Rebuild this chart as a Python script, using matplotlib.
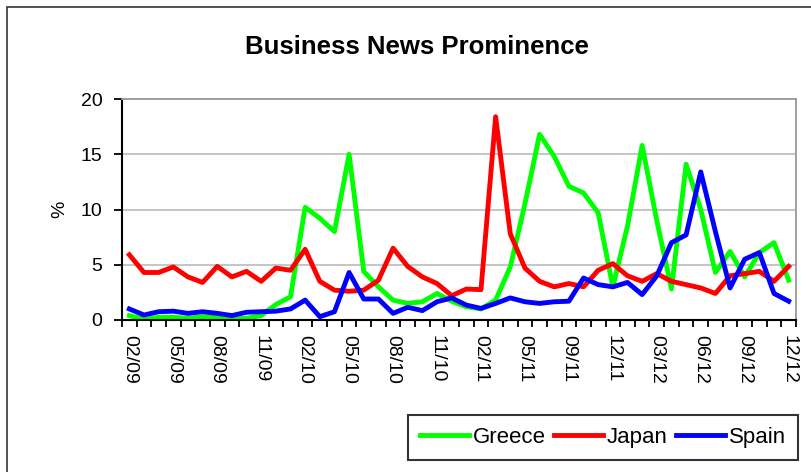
import matplotlib.pyplot as plt
from matplotlib.patches import Rectangle

plt.rcParams['font.family'] = ['Liberation Sans', 'DejaVu Sans']

# monthly categories, every third one labelled (one month is missing in mid 2011)
tick_labels = ["02/09", "05/09", "08/09", "11/09", "02/10", "05/10", "08/10", "11/10",
               "02/11", "05/11", "09/11", "12/11", "03/12", "06/12", "09/12", "12/12"]

greece = [0.4, 0.05, 0.25, 0.25, 0.15, 0.3, 0.25, 0.1, 0.15, 0.4, 1.4, 2.1,
          10.2, 9.2, 8.0, 15.0, 4.4, 3.0, 1.8, 1.5, 1.65, 2.4, 1.7, 1.2,
          1.0, 1.8, 4.8, 10.5, 16.8, 14.8, 12.1, 11.5, 9.7, 3.0, 8.5, 15.8,
          9.0, 2.8, 14.1, 10.0, 4.3, 6.2, 3.9, 6.1, 7.0, 3.6]
japan = [5.9, 4.3, 4.3, 4.8, 3.9, 3.4, 4.85, 3.9, 4.4, 3.5, 4.7, 4.5,
         6.4, 3.5, 2.7, 2.6, 2.7, 3.6, 6.5, 4.85, 3.9, 3.3, 2.2, 2.8,
         2.75, 18.4, 7.8, 4.7, 3.5, 3.0, 3.3, 3.0, 4.5, 5.1, 4.0, 3.5,
         4.2, 3.5, 3.2, 2.9, 2.4, 4.0, 4.2, 4.4, 3.5, 4.85]
spain = [1.0, 0.45, 0.75, 0.8, 0.6, 0.75, 0.6, 0.4, 0.7, 0.75, 0.8, 1.0,
         1.8, 0.3, 0.75, 4.3, 1.9, 1.9, 0.6, 1.15, 0.85, 1.65, 2.0, 1.35,
         1.05, 1.5, 2.0, 1.65, 1.5, 1.65, 1.7, 3.8, 3.2, 3.0, 3.4, 2.3,
         4.0, 7.0, 7.7, 13.4, 8.0, 2.9, 5.5, 6.1, 2.4, 1.7]

x = list(range(len(greece)))

fig = plt.figure(figsize=(8.11, 4.72), dpi=100)
ax = fig.add_axes([122 / 811, 1 - 320 / 472, 674 / 811, 221 / 472])

# outer chart frame
fig.patches.append(Rectangle((7 / 811, -0.5), 1.5, 1.5 - 7 / 472, transform=fig.transFigure,
                             fill=False, edgecolor='#333333', linewidth=1.2))

ax.plot(x, greece, color='#00FF00', linewidth=3.5, label='Greece')
ax.plot(x, japan, color='#FF0000', linewidth=3.5, label='Japan')
ax.plot(x, spain, color='#0000FF', linewidth=3.5, label='Spain')

ax.set_xlim(-0.5, len(x) - 0.5)
ax.set_ylim(0, 20)
ax.set_yticks([0, 5, 10, 15, 20])
ax.grid(axis='y', color='#C0C0C0', linewidth=1.3)
ax.set_axisbelow(True)

ax.set_xticks([i - 0.5 for i in range(len(x) + 1)])
ax.set_xticklabels([])
ax.set_xticks(list(range(0, len(x), 3)), minor=True)
ax.set_xticklabels(tick_labels, minor=True, rotation=270, fontsize=14)
ax.tick_params(axis='x', which='major', length=5, width=1.3, direction='out')
ax.tick_params(axis='x', which='minor', length=0, pad=11)
ax.tick_params(axis='y', length=6, width=1.3, pad=8, labelsize=14)

for s in ['left', 'bottom']:
    ax.spines[s].set_linewidth(1.5)
    ax.spines[s].set_color('black')
for s in ['top', 'right']:
    ax.spines[s].set_linewidth(1.3)
    ax.spines[s].set_color('#999999')

ax.set_ylabel('%', fontsize=14, labelpad=9)
fig.text(417 / 811, 1 - 47 / 472, 'Business News Prominence', fontsize=18.5, fontweight='bold',
         ha='center', va='center')

leg = fig.legend(loc='upper left', bbox_to_anchor=(408 / 811, 1 - 415 / 472), ncol=3,
                 fontsize=16, frameon=True, fancybox=False, handlelength=2.2,
                 handletextpad=0.15, columnspacing=0.4, borderpad=0.55, borderaxespad=0)
leg.get_frame().set_edgecolor('black')
leg.get_frame().set_linewidth(1.5)

fig.savefig('out.png', dpi=100)
